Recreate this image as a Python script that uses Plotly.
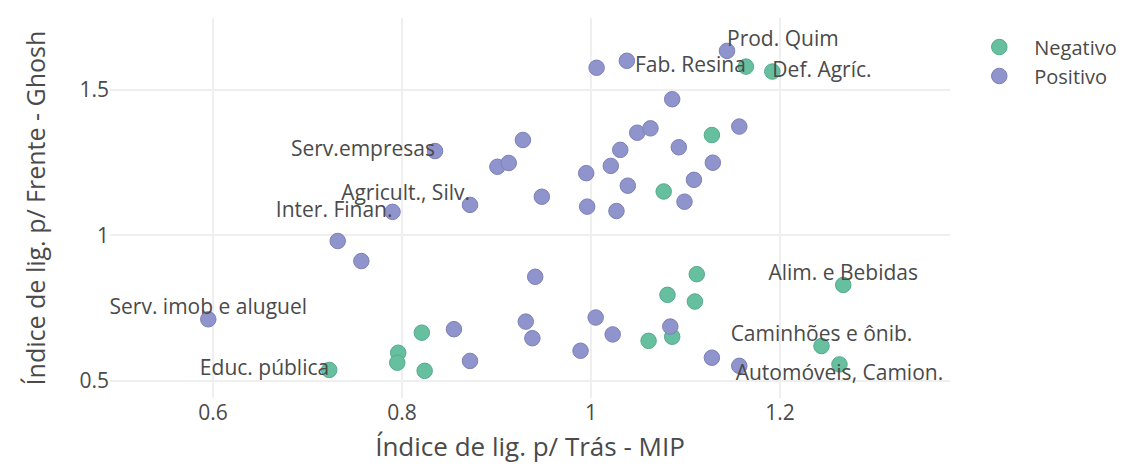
import plotly.graph_objects as go

# ---- data ----
neg_x = [1.164, 1.192, 1.128, 1.077, 0.821, 0.796, 0.795, 0.723, 0.824,
         1.112, 1.081, 1.110, 1.086, 1.061, 1.267, 1.244, 1.263]
neg_y = [1.580, 1.563, 1.345, 1.151, 0.666, 0.597, 0.563, 0.538, 0.535,
         0.867, 0.796, 0.773, 0.652, 0.638, 0.830, 0.620, 0.557]
neg_labels = ["Fab. Resina", "Def. Agríc.", "", "", "", "", "", "Educ. pública", "",
              "", "", "", "", "", "Alim. e Bebidas", "Caminhões e ônib.", "Automóveis, Camion."]

pos_x = [0.835, 0.928, 0.901, 0.913, 0.872, 0.948, 0.790, 1.006, 1.038, 1.144,
         1.086, 1.049, 1.063, 1.157, 1.031, 1.093, 1.021, 0.995, 1.129, 1.039,
         1.109, 1.099, 0.996, 1.027, 0.732, 0.757, 0.941, 0.595, 0.855, 0.931,
         0.938, 0.872, 1.005, 1.023, 1.084, 0.989, 1.128, 1.157]
pos_y = [1.290, 1.328, 1.236, 1.249, 1.105, 1.133, 1.081, 1.576, 1.600, 1.634,
         1.468, 1.353, 1.368, 1.374, 1.294, 1.303, 1.239, 1.214, 1.250, 1.171,
         1.191, 1.116, 1.099, 1.084, 0.981, 0.912, 0.858, 0.712, 0.678, 0.704,
         0.647, 0.569, 0.718, 0.660, 0.687, 0.604, 0.580, 0.552]
pos_labels = ["Serv.empresas", "", "", "", "Agricult., Silv.", "", "Inter. Finan.", "", "", "Prod. Quim",
              "", "", "", "", "", "", "", "", "", "",
              "", "", "", "", "", "", "", "Serv. imob e aluguel", "", "",
              "", "", "", "", "", "", "", ""]

series_names = ["Negativo", "Positivo"]
x_ticks = [0.6, 0.8, 1.0, 1.2]
x_tick_text = ["0.6", "0.8", "1", "1.2"]
y_ticks = [0.5, 1.0, 1.5]
y_tick_text = ["0.5", "1", "1.5"]
x_title = "Índice de lig. p/ Trás - MIP"
y_title = "Índice de lig. p/ Frente - Ghosh"

# ---- styles ----
label_position = {
    "Fab. Resina": "middle left",
    "Def. Agríc.": "middle right",
    "Educ. pública": "middle left",
    "Alim. e Bebidas": "top center",
    "Caminhões e ônib.": "top center",
    "Automóveis, Camion.": "bottom center",
    "Serv.empresas": "middle left",
    "Agricult., Silv.": "top left",
    "Inter. Finan.": "middle left",
    "Prod. Quim": "top right",
    "Serv. imob e aluguel": "top center",
}
colors = {"Negativo": "#66c09f", "Positivo": "#9094cc"}
edge = {"Negativo": "#55ab8b", "Positivo": "#7d80b8"}
FONT = "Open Sans, verdana, arial, sans-serif"

fig = go.Figure()
for name, xs, ys in [("Negativo", neg_x, neg_y), ("Positivo", pos_x, pos_y)]:
    fig.add_trace(go.Scatter(
        x=xs, y=ys, mode="markers", name=name,
        marker=dict(size=15.5, color=colors[name], line=dict(width=1, color=edge[name])),
    ))

lx, ly, lt, lp = [], [], [], []
for xs, ys, labs in [(neg_x, neg_y, neg_labels), (pos_x, pos_y, pos_labels)]:
    for xv, yv, t in zip(xs, ys, labs):
        if t:
            lx.append(xv); ly.append(yv); lt.append(t); lp.append(label_position[t])

fig.add_trace(go.Scatter(
    x=lx, y=ly, text=lt, mode="text", textposition=lp, showlegend=False,
    hoverinfo="skip", textfont=dict(size=21, color="#4a4a4a", family=FONT),
))

fig.update_layout(
    width=1126, height=468,
    margin=dict(l=110, r=176, t=18, b=70, autoexpand=False),
    paper_bgcolor="white", plot_bgcolor="white",
    font=dict(family=FONT, color="#4a4a4a", size=21),
    legend=dict(x=1.017, y=0.975, xanchor="left", yanchor="top", itemwidth=60,
                font=dict(size=20, color="#4a4a4a")),
    xaxis=dict(range=[0.491, 1.380], tickvals=x_ticks, ticktext=x_tick_text,
               showgrid=True, gridcolor="#efefef", gridwidth=1.5, zeroline=False,
               showline=False, ticks="", tickfont=dict(size=21),
               title=dict(text=x_title, font=dict(size=26), standoff=12)),
    yaxis=dict(range=[0.4416, 1.747], tickvals=y_ticks, ticktext=y_tick_text,
               showgrid=True, gridcolor="#efefef", gridwidth=1.5, zeroline=False,
               showline=False, ticks="", tickfont=dict(size=21),
               title=dict(text=y_title, font=dict(size=25), standoff=26)),
)

fig.write_html("out.html", config={"displayModeBar": False},
               post_script="document.body.style.margin='0';")
